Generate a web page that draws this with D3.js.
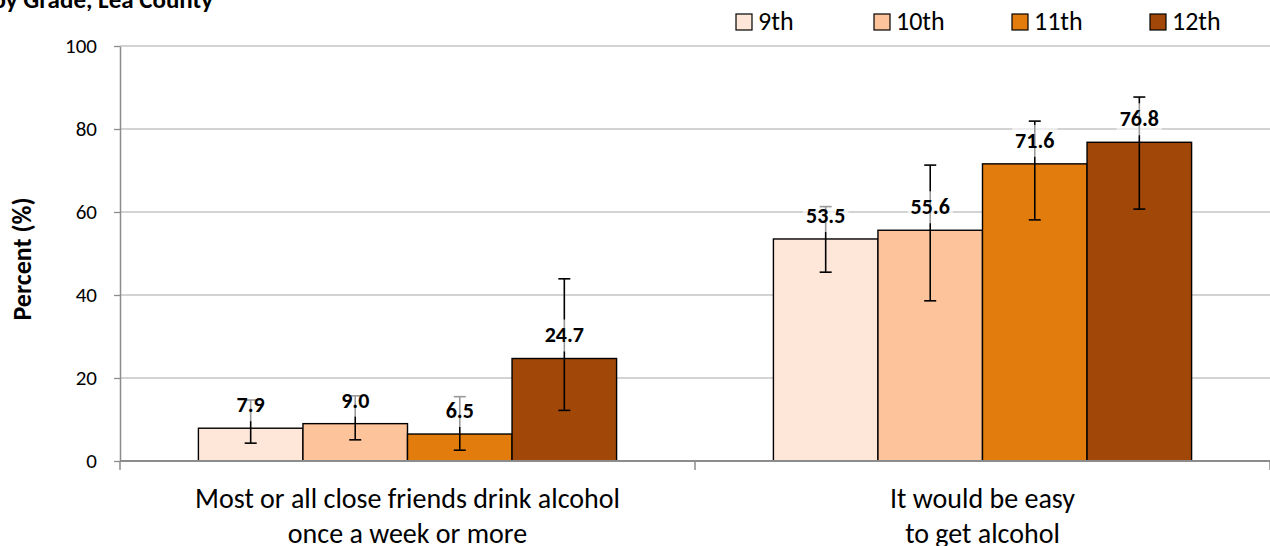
<!DOCTYPE html>
<html>
<head>
<meta charset="utf-8">
<script src="https://cdn.jsdelivr.net/npm/d3@7"></script>
<style>
  body { margin: 0; background: #fff; }
  svg { display: block; font-family: Carlito, Calibri, Lato, "Open Sans", sans-serif; }
</style>
</head>
<body>
<svg width="1270" height="546"></svg>
<script>
// data
const categories = [
  ['Most or all close friends drink alcohol', 'once a week or more'],
  ['It would be easy', 'to get alcohol']
];
const grades = ['9th', '10th', '11th', '12th'];
const values = [
  [7.9, 9.0, 6.5, 24.7],
  [53.5, 55.6, 71.6, 76.8]
];
const lowerCI = [
  [4.3, 5.1, 2.6, 12.2],
  [45.5, 38.6, 58.1, 60.7]
];
const upperCI = [
  [14.7, 15.7, 15.5, 43.9],
  [61.3, 71.3, 81.9, 87.7]
];
const yTicks = [0, 20, 40, 60, 80, 100];
const colors = ['#FEE6D9', '#FDC49C', '#E27C0C', '#A14808'];

const svg = d3.select('svg');
const margins = { top: 46, right: 0, bottom: 85, left: 120 };
const width = 1270 - margins.left - margins.right;
const height = 546 - margins.top - margins.bottom;

const chart = svg.append('g')
  .attr('transform', `translate(${margins.left}, ${margins.top})`);

const catIdx = d3.range(categories.length);
const x0 = d3.scaleBand().domain(catIdx).range([0, width]).paddingInner(0).paddingOuter(0);
const x1 = d3.scaleBand().domain(grades)
  .range([0, x0.bandwidth()]).paddingInner(0).paddingOuter(0.75);
const y = d3.scaleLinear().domain([0, 100]).range([height, 0]);

// gridlines
chart.append('g')
  .selectAll('line')
  .data(yTicks.filter(t => t > 0))
  .enter().append('line')
    .attr('x1', 0).attr('x2', width)
    .attr('y1', d => y(d)).attr('y2', d => y(d))
    .attr('stroke', '#c4c4c4').attr('stroke-width', 1.3);

// y axis
const yAxis = chart.append('g')
  .call(d3.axisLeft(y).tickValues(yTicks).tickSize(6).tickPadding(17).tickSizeOuter(0));
yAxis.select('path.domain').attr('stroke', '#8c8c8c').attr('stroke-width', 1.5);
yAxis.selectAll('.tick line').attr('stroke', '#8c8c8c').attr('stroke-width', 1.3);
yAxis.selectAll('.tick text')
  .attr('font-size', 21).attr('fill', '#000')
  .attr('font-family', 'Carlito, Calibri, Lato, "Open Sans", sans-serif');

// bars
const groups = chart.selectAll('g.cat')
  .data(catIdx)
  .enter().append('g')
    .attr('class', 'cat')
    .attr('transform', c => `translate(${x0(c)}, 0)`);

groups.selectAll('rect.bar')
  .data(c => grades.map((g, i) => ({ c, g, i, v: values[c][i] })))
  .enter().append('rect')
    .attr('class', 'bar')
    .attr('x', d => x1(d.g))
    .attr('y', d => y(d.v))
    .attr('width', x1.bandwidth())
    .attr('height', d => height - y(d.v))
    .attr('fill', d => colors[d.i])
    .attr('stroke', '#000').attr('stroke-width', 1.4);

// x axis
const xAxis = chart.append('g')
  .attr('transform', `translate(0, ${height})`);
xAxis.append('line')
  .attr('x1', 0).attr('x2', width)
  .attr('stroke', '#8c8c8c').attr('stroke-width', 1.8);
xAxis.selectAll('line.tick')
  .data(catIdx.concat([categories.length]))
  .enter().append('line')
    .attr('class', 'tick')
    .attr('x1', c => c * x0.bandwidth()).attr('x2', c => c * x0.bandwidth())
    .attr('y1', 0).attr('y2', 9)
    .attr('stroke', '#8c8c8c').attr('stroke-width', 1.5);
const catLabels = xAxis.selectAll('text.cat-label')
  .data(catIdx)
  .enter().append('text')
    .attr('class', 'cat-label')
    .attr('text-anchor', 'middle')
    .attr('font-size', 28)
    .attr('fill', '#000')
    .attr('transform', c => `translate(${x0(c) + x0.bandwidth() / 2}, 47)`);
catLabels.selectAll('tspan')
  .data(c => categories[c])
  .enter().append('tspan')
    .attr('x', 0)
    .attr('dy', (d, i) => i === 0 ? 0 : 35)
    .text(d => d);

// error bars
const errData = [];
catIdx.forEach(c => grades.forEach((g, i) => errData.push({
  c, g, i, v: values[c][i], lo: lowerCI[c][i], hi: upperCI[c][i]
})));
const cx = d => x0(d.c) + x1(d.g) + x1.bandwidth() / 2;
const err = chart.append('g').attr('class', 'errors');
err.selectAll('line.stem')
  .data(errData).enter().append('line')
    .attr('x1', cx).attr('x2', cx)
    .attr('y1', d => y(d.lo)).attr('y2', d => y(d.hi))
    .attr('stroke', '#000').attr('stroke-width', 1.6);
['lo', 'hi'].forEach(k => {
  err.selectAll(`line.cap-${k}`)
    .data(errData).enter().append('line')
      .attr('x1', d => cx(d) - 6).attr('x2', d => cx(d) + 6)
      .attr('y1', d => y(d[k])).attr('y2', d => y(d[k]))
      .attr('stroke', '#000').attr('stroke-width', 1.6);
});

// value labels with translucent white box
const labels = chart.append('g').attr('class', 'value-labels');
errData.forEach(d => {
  const lg = labels.append('g')
    .attr('transform', `translate(${cx(d)}, ${y(d.v) - 16})`);
  const t = lg.append('text')
    .attr('text-anchor', 'middle')
    .attr('font-size', 22)
    .attr('font-weight', 'bold')
    .attr('fill', '#000')
    .text(d.v.toFixed(1));
  const bb = t.node().getBBox();
  lg.insert('rect', 'text')
    .attr('x', bb.x - 3).attr('y', bb.y - 2)
    .attr('width', bb.width + 6).attr('height', bb.height + 5)
    .attr('fill', '#fff').attr('fill-opacity', 0.6);
});

// legend
const legend = svg.append('g')
  .attr('transform', 'translate(736, 14)');
const items = legend.selectAll('g.item')
  .data(grades)
  .enter().append('g')
    .attr('class', 'item')
    .attr('transform', (g, i) => `translate(${i * 138}, 0)`);
items.append('rect')
  .attr('width', 16).attr('height', 16)
  .attr('fill', (g, i) => colors[i])
  .attr('stroke', '#000').attr('stroke-width', 1.2);
items.append('text')
  .attr('x', 22).attr('y', 16)
  .attr('font-size', 26)
  .attr('fill', '#000')
  .text(g => g);

// y axis title
svg.append('text')
  .attr('transform', `translate(31, 259) rotate(-90)`)
  .attr('text-anchor', 'middle')
  .attr('font-size', 26)
  .attr('font-weight', 'bold')
  .attr('fill', '#000')
  .text('Percent (%)');

// chart title (cropped at the top left)
svg.append('text')
  .attr('x', 213).attr('y', 8)
  .attr('text-anchor', 'end')
  .attr('font-size', 25)
  .attr('font-weight', 'bold')
  .attr('fill', '#000')
  .text('by Grade, Lea County');
</script>
</body>
</html>
